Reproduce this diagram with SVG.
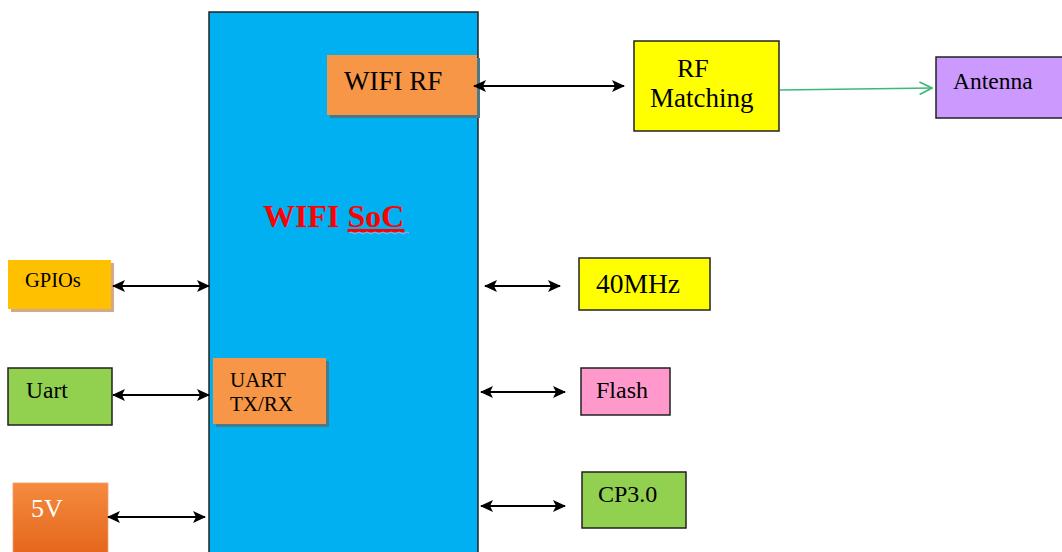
<svg xmlns="http://www.w3.org/2000/svg" width="1062" height="552" viewBox="0 0 1062 552">
<defs>
<style>
.t{font-family:"Liberation Serif","Times New Roman",serif;fill:#000;}
.box{stroke:#222;stroke-width:1.5;}
.conn{stroke:#000;stroke-width:1.8;fill:none;}
</style>
<marker id="ah" viewBox="0 0 13 12" refX="12" refY="6" markerWidth="13" markerHeight="12" markerUnits="userSpaceOnUse" orient="auto-start-reverse">
<path d="M0,0 L13,6 L0,12 L3,6 z" fill="#000"/>
</marker>
<marker id="open" viewBox="0 0 12 12" refX="11" refY="6" markerWidth="15" markerHeight="15" markerUnits="userSpaceOnUse" orient="auto">
<path d="M1,1 L11,6 L1,11" fill="none" stroke="#3cb878" stroke-width="1.3"/>
</marker>
<linearGradient id="g5v" x1="0" y1="0" x2="0" y2="1">
<stop offset="0" stop-color="#f58a3e"/>
<stop offset="1" stop-color="#e4661c"/>
</linearGradient>
</defs>
<rect width="1062" height="552" fill="#fff"/>

<g id="soc">
<rect x="209" y="12" width="269" height="560" fill="#00b0f0" class="box"/>
<text x="263" y="227" font-family="Liberation Serif,serif" font-weight="bold" font-size="32" fill="#ff0000">WIFI <tspan text-decoration="underline">SoC</tspan></text>
<path d="M349,233 q2,-2 4,0 t4,0 t4,0 t4,0 t4,0 t4,0 t4,0 t4,0 t4,0 t4,0 t4,0 t4,0 t4,0 t4,0 t4,0" fill="none" stroke="#b0b0d8" stroke-width="1"/>
</g>

<g id="wifi-rf">
<rect x="330" y="58" width="150" height="60" fill="#4a7a8a"/>
<rect x="327" y="55" width="150" height="60" fill="#f79646"/>
<text x="344" y="90" class="t" font-size="27">WIFI RF</text>
</g>

<g id="uart-txrx">
<rect x="216" y="361" width="113" height="66" fill="#4a7a8a"/>
<rect x="213" y="358" width="113" height="66" fill="#f79646"/>
<text x="230" y="387" class="t" font-size="21">UART</text>
<text x="230" y="411" class="t" font-size="21">TX/RX</text>
</g>

<g id="rf-matching">
<rect x="634" y="41" width="145" height="90" fill="#ffff00" class="box"/>
<text x="677" y="77" class="t" font-size="26">RF</text>
<text x="650" y="107" class="t" font-size="27">Matching</text>
</g>

<g id="antenna">
<rect x="936" y="57" width="130" height="61" fill="#cc99ff" class="box"/>
<text x="953" y="89" class="t" font-size="23.5">Antenna</text>
</g>

<g id="gpios">
<rect x="11" y="263" width="103" height="49" fill="#d4a888"/>
<rect x="8" y="260" width="103" height="49" fill="#ffc000"/>
<text x="25" y="287" class="t" font-size="20.5">GPIOs</text>
</g>

<g id="uart">
<rect x="8" y="368" width="104" height="57" fill="#92d050" class="box"/>
<text x="26" y="398" class="t" font-size="23.5">Uart</text>
</g>

<g id="v5">
<rect x="13" y="483" width="95" height="72" fill="url(#g5v)" stroke="#f0a070" stroke-width="0.8"/>
<text x="31" y="517" font-family="Liberation Serif,serif" font-size="26" fill="#fff">5V</text>
</g>

<g id="mhz40">
<rect x="579" y="258" width="131" height="52" fill="#ffff00" class="box"/>
<text x="596" y="293" class="t" font-size="27.5">40MHz</text>
</g>

<g id="flash">
<rect x="581" y="368" width="89" height="47" fill="#ff99cc" class="box"/>
<text x="596" y="398" class="t" font-size="24">Flash</text>
</g>

<g id="cp30">
<rect x="582" y="472" width="104" height="56" fill="#92d050" class="box"/>
<text x="598" y="502" class="t" font-size="24">CP3.0</text>
</g>

<g id="connectors">
<line x1="474" y1="86" x2="624" y2="86" class="conn" marker-start="url(#ah)" marker-end="url(#ah)"/>
<line x1="780" y1="90" x2="932" y2="88" stroke="#3cb878" stroke-width="1.5" marker-end="url(#open)"/>
<line x1="113" y1="286" x2="209" y2="286" class="conn" marker-start="url(#ah)" marker-end="url(#ah)"/>
<line x1="113" y1="395" x2="209" y2="395" class="conn" marker-start="url(#ah)" marker-end="url(#ah)"/>
<line x1="108" y1="517" x2="205" y2="517" class="conn" marker-start="url(#ah)" marker-end="url(#ah)"/>
<line x1="485" y1="286" x2="560" y2="286" class="conn" marker-start="url(#ah)" marker-end="url(#ah)"/>
<line x1="481" y1="392" x2="565" y2="392" class="conn" marker-start="url(#ah)" marker-end="url(#ah)"/>
<line x1="481" y1="506" x2="565" y2="506" class="conn" marker-start="url(#ah)" marker-end="url(#ah)"/>
</g>
</svg>
